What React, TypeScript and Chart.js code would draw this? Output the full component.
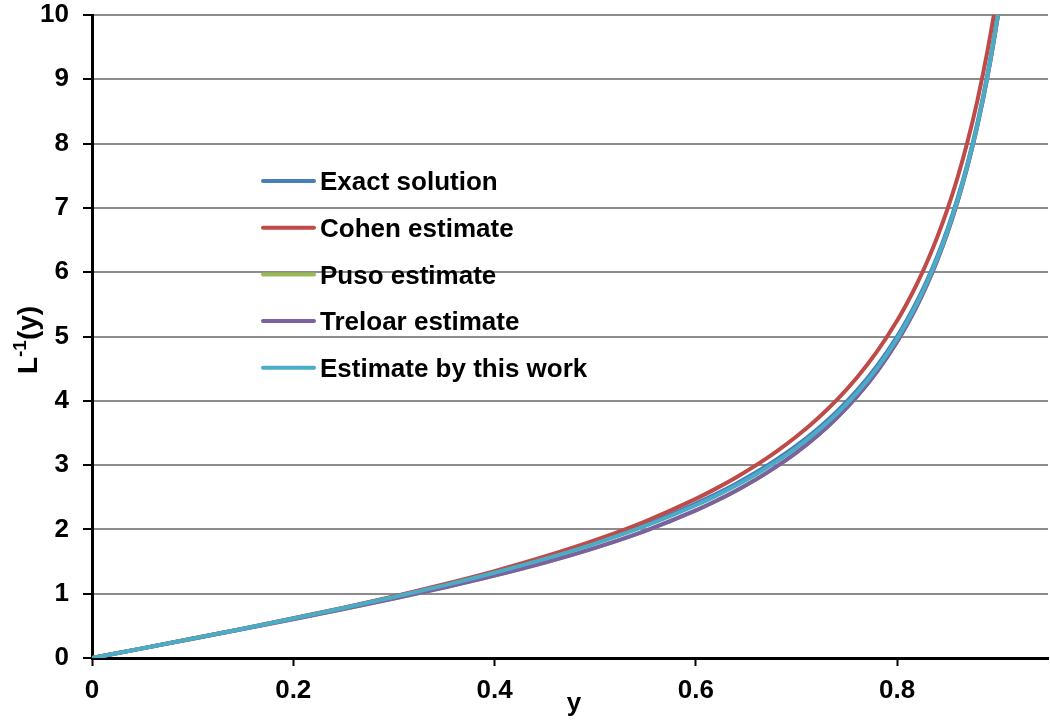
import React, { useEffect, useRef } from 'react';
import { Chart, registerables } from 'chart.js';

Chart.register(...registerables);

// ---- data ----
const yValues = [0, 0.05, 0.1, 0.15, 0.2, 0.25, 0.3, 0.35, 0.4, 0.45, 0.5, 0.55, 0.6, 0.62, 0.64, 0.66, 0.68, 0.7, 0.72, 0.74, 0.76, 0.78, 0.8, 0.81, 0.82, 0.83, 0.84, 0.85, 0.86, 0.87, 0.88, 0.89, 0.9, 0.91];

const exactSolution = [0, 0.150, 0.302, 0.456, 0.615, 0.780, 0.953, 1.137, 1.336, 1.554, 1.797, 2.074, 2.401, 2.549, 2.711, 2.888, 3.085, 3.303, 3.551, 3.832, 4.158, 4.541, 4.998, 5.263, 5.556, 5.882, 6.250, 6.667, 7.143, 7.692, 8.333, 9.091, 10.0, 11.11];

const cohenEstimate = [0, 0.150, 0.302, 0.457, 0.617, 0.783, 0.959, 1.148, 1.352, 1.579, 1.833, 2.127, 2.475, 2.634, 2.808, 2.999, 3.210, 3.445, 3.710, 4.011, 4.358, 4.764, 5.244, 5.521, 5.826, 6.166, 6.547, 6.976, 7.465, 8.027, 8.681, 9.452, 10.37, 11.50];

const pusoEstimate = [0, 0.150, 0.300, 0.452, 0.605, 0.762, 0.925, 1.097, 1.282, 1.485, 1.714, 1.979, 2.296, 2.442, 2.602, 2.779, 2.976, 3.196, 3.446, 3.733, 4.064, 4.453, 4.918, 5.186, 5.483, 5.815, 6.187, 6.608, 7.089, 7.643, 8.288, 9.050, 9.963, 11.08];

const treloarEstimate = [0, 0.150, 0.300, 0.451, 0.604, 0.761, 0.924, 1.096, 1.281, 1.484, 1.713, 1.978, 2.295, 2.441, 2.601, 2.778, 2.975, 3.195, 3.445, 3.732, 4.063, 4.452, 4.917, 5.185, 5.482, 5.814, 6.186, 6.607, 7.088, 7.642, 8.287, 9.049, 9.962, 11.08];

const thisWorkEstimate = [0, 0.150, 0.301, 0.455, 0.613, 0.777, 0.948, 1.130, 1.326, 1.541, 1.780, 2.053, 2.375, 2.522, 2.683, 2.858, 3.053, 3.270, 3.517, 3.797, 4.122, 4.505, 4.962, 5.228, 5.521, 5.848, 6.217, 6.635, 7.112, 7.663, 8.306, 9.066, 9.978, 11.09];

const seriesNames = ['Exact solution', 'Cohen estimate', 'Puso estimate', 'Treloar estimate', 'Estimate by this work'];
const seriesValues = [exactSolution, cohenEstimate, pusoEstimate, treloarEstimate, thisWorkEstimate];
const seriesColors = ['#4A7EBB', '#BE4B48', '#98B954', '#7D60A0', '#4BACC6'];

const xTickValues = [0, 0.2, 0.4, 0.6, 0.8];
const xTickLabels = ['0', '0.2', '0.4', '0.6', '0.8'];
const yTickValues = [0, 1, 2, 3, 4, 5, 6, 7, 8, 9, 10];

const xAxisTitle = 'y';
const yAxisTitleMain = 'L';
const yAxisTitleSup = '-1';
const yAxisTitleRest = '(y)';

const FONT = '"Liberation Sans", Arial, sans-serif';

const legendPlugin = {
  id: 'customLegend',
  afterDatasetsDraw(chart: any) {
    const ctx = chart.ctx;
    ctx.save();
    seriesNames.forEach((name, i) => {
      const y = 181 + i * 46.7;
      ctx.strokeStyle = seriesColors[i];
      ctx.lineWidth = 4;
      ctx.lineCap = 'round';
      ctx.beginPath();
      ctx.moveTo(263, y);
      ctx.lineTo(314, y);
      ctx.stroke();
      ctx.fillStyle = '#000';
      ctx.font = `bold 26px ${FONT}`;
      ctx.textAlign = 'left';
      ctx.textBaseline = 'alphabetic';
      ctx.fillText(name, 320, y + 9.3);
    });
    ctx.restore();
  },
};

const titlesPlugin = {
  id: 'axisTitles',
  afterDraw(chart: any) {
    const ctx = chart.ctx;
    const area = chart.chartArea;
    ctx.save();
    ctx.fillStyle = '#000';
    // x title
    ctx.font = `bold 26px ${FONT}`;
    ctx.textAlign = 'center';
    ctx.textBaseline = 'alphabetic';
    ctx.fillText(xAxisTitle, (area.left + area.right) / 2 + 4, 711);
    // y title (rotated, with superscript)
    const mainFont = `bold 28px ${FONT}`;
    const supFont = `bold 19px ${FONT}`;
    ctx.font = mainFont;
    const w1 = ctx.measureText(yAxisTitleMain).width;
    const w3 = ctx.measureText(yAxisTitleRest).width;
    ctx.font = supFont;
    const w2 = ctx.measureText(yAxisTitleSup).width;
    const total = w1 + w2 + w3;
    ctx.translate(37, 340);
    ctx.rotate(-Math.PI / 2);
    ctx.textAlign = 'left';
    let x = -total / 2;
    ctx.font = mainFont;
    ctx.fillText(yAxisTitleMain, x, 0);
    x += w1;
    ctx.font = supFont;
    ctx.fillText(yAxisTitleSup, x, -11);
    x += w2;
    ctx.font = mainFont;
    ctx.fillText(yAxisTitleRest, x, 0);
    ctx.restore();
  },
};

export default function App() {
  const canvasRef = useRef<HTMLCanvasElement | null>(null);

  useEffect(() => {
    if (!canvasRef.current) return;
    const datasets = seriesNames.map((name, i) => ({
      label: name,
      data: yValues.map((v, k) => ({ x: v, y: seriesValues[i][k] })),
      borderColor: seriesColors[i],
      backgroundColor: seriesColors[i],
      borderWidth: 4,
      pointRadius: 0,
      cubicInterpolationMode: 'monotone' as const,
      fill: false,
      order: seriesNames.length - 1 - i,
    }));

    const chart = new Chart(canvasRef.current, {
      type: 'line',
      data: { datasets },
      options: {
        animation: false,
        responsive: false,
        maintainAspectRatio: false,
        layout: { padding: { top: 0, right: 2, left: 0, bottom: 0 } },
        plugins: {
          legend: { display: false },
          tooltip: { enabled: false },
        },
        scales: {
          x: {
            type: 'linear',
            min: 0,
            max: 0.95,
            afterFit: (s: any) => {
              s.height = 64;
            },
            afterBuildTicks: (s: any) => {
              s.ticks = xTickValues.map((v) => ({ value: v }));
            },
            ticks: {
              autoSkip: false,
              maxRotation: 0,
              padding: 9,
              color: '#000',
              font: { family: FONT, size: 26, weight: 'bold' },
              callback: (v: any) => {
                const idx = xTickValues.findIndex((t) => Math.abs(t - v) < 1e-9);
                return idx >= 0 ? xTickLabels[idx] : '';
              },
            },
            grid: {
              drawOnChartArea: false,
              drawTicks: true,
              tickLength: 8,
              tickColor: '#000',
              tickWidth: 2,
            },
            border: { display: true, color: '#000', width: 3 },
          },
          y: {
            type: 'linear',
            min: 0,
            max: 10,
            afterFit: (s: any) => {
              s.width = 92;
              s.paddingTop = 15;
            },
            afterBuildTicks: (s: any) => {
              s.ticks = yTickValues.map((v) => ({ value: v }));
            },
            ticks: {
              autoSkip: false,
              padding: 14,
              color: '#000',
              font: { family: FONT, size: 26, weight: 'bold', lineHeight: 1.15 },
              callback: (v: any) => String(v),
            },
            grid: {
              color: '#8c8c8c',
              lineWidth: 2,
              drawTicks: true,
              tickLength: 9,
              tickColor: '#000',
              tickWidth: 2,
            },
            border: { display: true, color: '#000', width: 3 },
          },
        },
      },
      plugins: [legendPlugin, titlesPlugin],
    });
    return () => chart.destroy();
  }, []);

  return (
    <div style={{ position: 'absolute', left: 0, top: 0, width: 1050, height: 722, background: '#fff' }}>
      <canvas ref={canvasRef} width={1050} height={722} style={{ width: 1050, height: 722, display: 'block' }} />
    </div>
  );
}
